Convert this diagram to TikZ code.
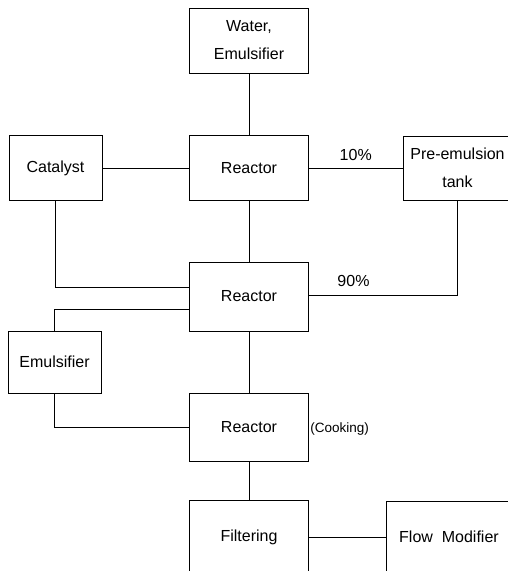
\documentclass[tikz,border=0pt]{standalone}
\usepackage{fontspec}
\setmainfont{Liberation Sans}
\tikzset{
  unit/.style={draw, line width=0.8pt, align=center, inner sep=2pt,
    font=\fontsize{16}{28}\selectfont},
  note/.style={font=\fontsize{16}{19}\selectfont, inner sep=2pt}
}
\begin{document}
\begin{tikzpicture}[x=1pt,y=-1pt,line width=0.8pt]
  \useasboundingbox (0,0) rectangle (508,571);
  % Boxes
  \node[unit, minimum width=119pt, minimum height=65pt] (water) at (249,40.5) {Water,\\Emulsifier};
  \node[unit, minimum width=93pt, minimum height=65pt] (cat) at (55.5,168) {Catalyst};
  \node[unit, minimum width=119pt, minimum height=65pt] (r1) at (249,168) {Reactor};
  \node[unit, minimum width=109pt, minimum height=64pt] (pre) at (457.5,168) {Pre-emulsion\\tank};
  \node[unit, minimum width=119pt, minimum height=69pt] (r2) at (249,296.5) {Reactor};
  \node[unit, minimum width=93pt, minimum height=62pt] (emu) at (54.5,362) {Emulsifier};
  \node[unit, minimum width=119pt, minimum height=68pt] (r3) at (249,427) {Reactor};
  \node[unit, minimum width=119pt, minimum height=74pt] (filt) at (249,537) {Filtering};
  \node[unit, minimum width=126pt, minimum height=72pt] (flow) at (449,537) {Flow~ Modifier};
  % Side label
  \node[note, right, font=\fontsize{13.5}{16}\selectfont, inner sep=1pt] (cook) at ([yshift=-2pt]r3.east) {(Cooking)};
  % Main line
  \draw (water) -- (r1);
  \draw (r1) -- (r2);
  \draw (r2) -- (r3);
  \draw (r3) -- (filt);
  \draw (filt) -- (flow);
  % Feeds
  \draw (cat) -- (r1);
  \draw (r1) -- node[note, above=5pt] {10\%} (pre);
  \draw (pre.south) |- node[note, pos=0.85, above=6pt] {90\%} ([yshift=1.5pt]r2.east);
  \draw (cat.south) |- ([yshift=9.5pt]r2.west);
  \draw (emu.north) |- ([yshift=-12.5pt]r2.west);
  \draw (emu.south) |- (r3.west);
\end{tikzpicture}
\end{document}
